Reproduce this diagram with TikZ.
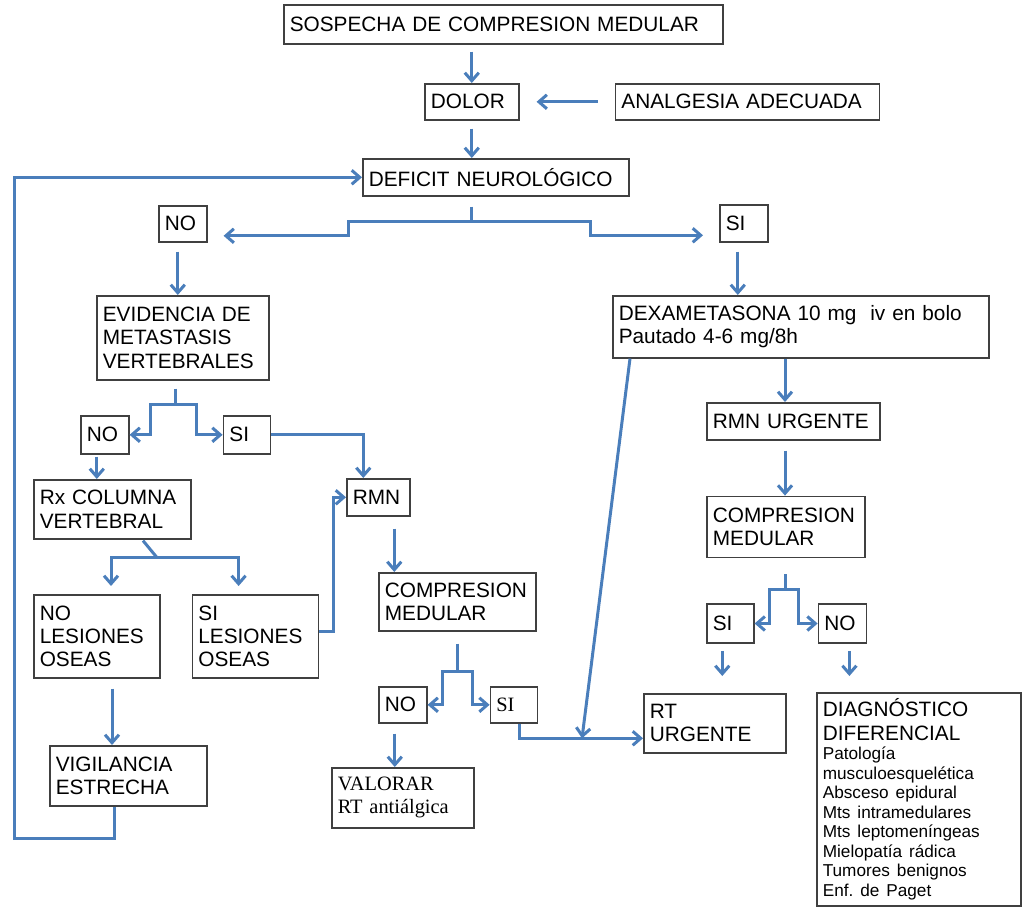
\documentclass[tikz,border=0pt]{standalone}
\usepackage{fontspec}
\setmainfont{Liberation Sans}
\newfontfamily\serifbox{Liberation Serif}
\usepackage{xcolor}
\usetikzlibrary{positioning,arrows.meta,calc}

\definecolor{flowblue}{RGB}{74,126,187}
\frenchspacing

\begin{document}
\begin{tikzpicture}[
    x=0.5pt, y=-0.5pt,
    box/.style={rectangle, draw=black!75, line width=0.8pt, anchor=north west, align=left, inner xsep=3pt, inner ysep=2pt, font=\fontsize{10.4}{11.6}\selectfont},
    timesbox/.style={font=\serifbox\fontsize{10.2}{11.5}\selectfont},
    arrow/.style={-{Straight Barb[length=4pt, width=7pt]}, line width=1.5pt, draw=flowblue},
    link/.style={line width=1.5pt, draw=flowblue}
]
\useasboundingbox (0,0) rectangle (1028,908);

% Top
\node[box, text width=213.5pt, minimum height=19.5pt] (sospecha) at (283,4) {SOSPECHA DE COMPRESION MEDULAR};
\node[box, text width=41pt, minimum height=18pt] (dolor) at (424,83) {DOLOR};
\node[box, text width=126pt, minimum height=18pt, right=47.5pt of dolor.north east, anchor=north west] (analgesia) {ANALGESIA ADECUADA};
\node[box, text width=127pt, minimum height=18.5pt] (deficit) at (362,158) {DEFICIT NEUROLÓGICO};

% First answer
\node[box, text width=18pt, minimum height=18pt] (no1) at (158,205) {NO};
\node[box, text width=18pt, minimum height=18.5pt] (si1) at (719,204) {SI};

% Left branch
\node[box, text width=80pt, minimum height=42pt] (evidencia) at (96,295) {EVIDENCIA DE\\METASTASIS\\VERTEBRALES};
\node[box, text width=18pt, minimum height=19pt] (no2) at (80,415) {NO};
\node[box, text width=17.5pt, minimum height=19pt, right=46.5pt of no2.north east, anchor=north west] (si2) {SI};
\node[box, text width=72.5pt, minimum height=29.5pt] (rx) at (33,479) {Rx COLUMNA\\VERTEBRAL};
\node[box, text width=25.5pt, minimum height=18.5pt] (rmn) at (346,478) {RMN};
\node[box, text width=57pt, minimum height=41.5pt] (nolesion) at (33,594) {NO\\LESIONES\\OSEAS};
\node[box, text width=57pt, minimum height=41.5pt, right=15.5pt of nolesion.north east, anchor=north west] (silesion) {SI\\LESIONES\\OSEAS};
\node[box, text width=72.5pt, minimum height=30pt] (vigil) at (49,745) {VIGILANCIA\\ESTRECHA};

% Middle branch
\node[box, text width=72.5pt, minimum height=29pt] (compmid) at (378,572) {COMPRESION\\MEDULAR};
\node[box, text width=18pt, minimum height=18pt] (nomid) at (378,686) {NO};
\node[box, timesbox, text width=17.5pt, minimum height=18pt, right=31pt of nomid.north east, anchor=north west] (simid) {SI};
\node[box, timesbox, text width=65pt, minimum height=30pt] (valorar) at (331,767) {VALORAR\\RT antiálgica};

% Right branch
\node[box, text width=182pt, minimum height=31pt] (dexa) at (612,295) {DEXAMETASONA 10 mg\ \ iv en bolo\\Pautado 4-6 mg/8h};
\node[box, text width=80.5pt, minimum height=18.5pt] (rmnurg) at (706,402) {RMN URGENTE};
\node[box, text width=73pt, minimum height=30.5pt, below=27.5pt of rmnurg.south west, anchor=north west] (compright) {COMPRESION\\MEDULAR};
\node[box, text width=17.5pt, minimum height=19.5pt, below=22.5pt of compright.south west, anchor=north west] (siright) {SI};
\node[box, text width=18pt, minimum height=19.5pt, right=31.5pt of siright.north east, anchor=north west] (noright) {NO};
\node[box, text width=65pt, minimum height=29.5pt] (rt) at (643,693) {RT\\URGENTE};
\node[box, text width=96pt, minimum height=106.5pt] (diag) at (816,692) {DIAGNÓSTICO\\DIFERENCIAL\par
    {\fontsize{8.6}{9.75}\selectfont Patología\\musculoesquelética\\Absceso epidural\\Mts intramedulares\\Mts leptomeníngeas\\Mielopatía rádica\\Tumores benignos\\Enf. de Paget\par}};

% Top connectors
\draw[arrow, shorten <=3.5pt] (sospecha.south -| dolor.north) -- (dolor.north);
\draw[arrow, shorten <=4pt] (dolor.south) -- (dolor.south |- deficit.north);
\draw[arrow, shorten <=8.5pt, shorten >=8.5pt] (analgesia.west) -- (dolor.east);

% Split under deficit
\coordinate (d0) at (dolor.south |- deficit.south);
\coordinate (split1) at ($(d0)+(0,25)$);
\draw[link, shorten <=5pt] (d0) -- (split1);
\draw[arrow] (split1) -- ++(-123,0) |- ($(no1.east)+(16,12)$);
\draw[arrow] (split1) -- ++(119,0) |- ($(si1.west)+(-16,12)$);

\coordinate (n1) at ($(no1.south)+(-5,0)$);
\draw[arrow, shorten <=4.5pt] (n1) -- (n1 |- evidencia.north);
\coordinate (s1) at ($(si1.south)+(-6,0)$);
\draw[arrow, shorten <=4.5pt] (s1) -- (s1 |- dexa.north);

% Split under evidencia
\coordinate (split2) at ($(evidencia.south)+(-7,24)$);
\draw[link, shorten <=4pt] (split2 |- evidencia.south) -- (split2);
\draw[arrow] (split2) -- ++(-25,0) |- (no2.east);
\draw[arrow] (split2) -- ++(21,0) |- (si2.west);
\draw[arrow] (si2.east) -| ($(rmn.north)+(-15,0)$);

\coordinate (n2) at ($(no2.south)+(-8,0)$);
\draw[arrow, shorten <=1pt] (n2) -- (n2 |- rx.north);

% Split under rx
\coordinate (split3) at ($(rx.south west)+(124,18)$);
\draw[link] ($(rx.south west)+(110,1)$) -- (split3);
\draw[arrow] (split3) -| ($(nolesion.north west)+(78,-8)$);
\draw[arrow] (split3) -| ($(silesion.north west)+(47,-8)$);
\draw[arrow] ($(silesion.east)+(0,-5)$) -- ++(14,0) |- (rmn.west);

\coordinate (nl) at ($(nolesion.south west)+(79,0)$);
\draw[arrow, shorten <=5pt] (nl) -- (nl |- vigil.north);

% Back to deficit
\coordinate (vl) at ($(vigil.south west)+(65,0)$);
\coordinate (loop) at (14,838);
\draw[arrow] (vl) |- (loop) |- (deficit.west);

% Middle
\coordinate (rm) at ($(rmn.south)+(16,0)$);
\draw[arrow, shorten <=6pt] (rm) -- (rm |- compmid.north);
\coordinate (split4) at ($(compmid.south)+(0,40)$);
\draw[link, shorten <=6pt] (compmid.south) -- (split4);
\draw[arrow] (split4) -- ++(-15,0) |- (nomid.east);
\draw[arrow] (split4) -- ++(15,0) |- (simid.west);
\coordinate (nm) at ($(nomid.south)+(-8,0)$);
\draw[arrow, shorten <=5pt] (nm) -- (nm |- valorar.north);
\draw[arrow] ($(simid.south)+(6,0)$) |- ($(rt.west)+(0,15)$);

% Right
\draw[arrow] ($(dexa.south west)+(18,0)$) -- ($(rt.west)+(-61,15)$);
\coordinate (dx) at ($(dexa.south west)+(173,0)$);
\draw[arrow] (dx) -- (dx |- rmnurg.north);
\draw[arrow, shorten <=5pt] (rmnurg.south -| dx) -- (dx |- compright.north);
\coordinate (c5) at (compright.south -| dx);
\coordinate (split5) at ($(c5)+(0,31)$);
\draw[link, shorten <=8pt] (c5) -- (split5);
\draw[arrow] (split5) -- ++(-16,0) |- (siright.east);
\draw[arrow] (split5) -- ++(13,0) |- (noright.west);
\coordinate (sr) at ($(siright.south)+(-8,0)$);
\draw[arrow, shorten <=3.5pt, shorten >=8.5pt] (sr) -- (sr |- rt.north);
\coordinate (nr) at ($(noright.south)+(7,0)$);
\draw[arrow, shorten <=3.5pt, shorten >=8pt] (nr) -- (nr |- diag.north);

\end{tikzpicture}
\end{document}
